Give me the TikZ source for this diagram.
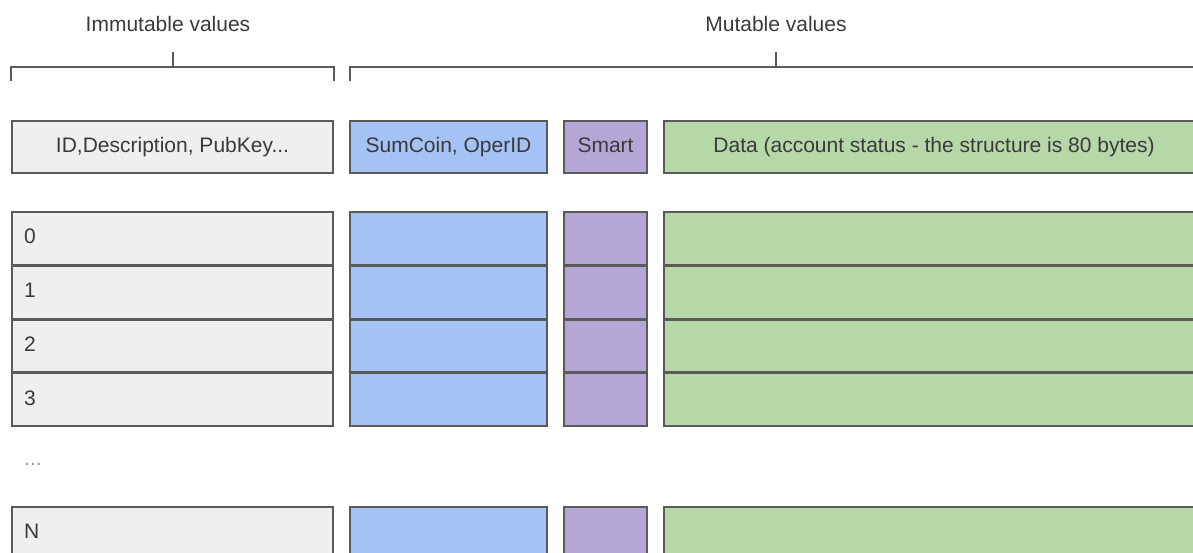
\documentclass[tikz,border=0pt]{standalone}
\usepackage{fontspec}
\setmainfont{Liberation Sans}
\usetikzlibrary{positioning}
\definecolor{tabInk}{HTML}{5A5A5A}
\definecolor{tabText}{HTML}{3A3A3A}
\definecolor{tabMuted}{HTML}{9A9A9A}
\definecolor{tabGrayFill}{HTML}{EFEFEF}
\definecolor{tabBlueFill}{HTML}{A4C2F4}
\definecolor{tabPurpleFill}{HTML}{B4A7D6}
\definecolor{tabGreenFill}{HTML}{B6D7A8}
\tikzset{
  tab/base/.style={draw=tabInk, line width=2pt, text=tabText,
    font=\fontsize{21}{25}\selectfont, inner sep=0pt, minimum height=52pt,
    text height=15pt, text depth=4pt, anchor=north west},
  tab/immutable/.style={tab/base, fill=tabGrayFill, minimum width=321pt},
  tab/coin/.style={tab/base, fill=tabBlueFill, minimum width=197pt},
  tab/smart/.style={tab/base, fill=tabPurpleFill, minimum width=83pt},
  tab/data/.style={tab/base, fill=tabGreenFill, minimum width=540pt},
  tab/index/.style={tab/immutable, text width=297pt, inner xsep=12pt,
    align=left, minimum height=52.75pt},
  tab/brace/.style={draw=tabInk, line width=1.5pt},
  tab/heading/.style={font=\fontsize{21}{25}\selectfont, text=tabText},
  tab/dots/.style={font=\fontsize{21}{25}\selectfont, text=tabMuted,
    anchor=west, inner sep=0pt},
}

\begin{document}
\begin{tikzpicture}[x=1pt, y=-1pt]
\useasboundingbox (0,0) rectangle (1193,553);
\clip (0,0) rectangle (1193,553);
% headings and brackets
\node[tab/heading] (immut) at (168,24) {Immutable values};
\node[tab/heading] (mut) at (776,24) {Mutable values};
\draw[tab/brace] (11,81) -- (11,67) -- (334,67) -- (334,81);
\draw[tab/brace] (173,67) -- (173,52);
\draw[tab/brace] (350,81) -- (350,67) -- (1210,67);
\draw[tab/brace] (776,67) -- (776,52);
% header row
\node[tab/immutable] (idhead) at (11,120) {ID,Description, PubKey...};
\node[tab/coin, right=15pt of idhead] (coinhead) {SumCoin, OperID};
\node[tab/smart, right=15pt of coinhead] (smarthead) {Smart};
\node[tab/data, right=15pt of smarthead] (datahead) {Data (account status - the structure is 80 bytes)};
% account rows
\node[tab/index] (idx0) at (11,211) {0};
\foreach \i [remember=\i as \prev (initially 0)] in {1,2,3}
  \node[tab/index, below=-1pt of idx\prev] (idx\i) {\i};
\node[tab/dots] (dots) at (24,464) {...};
\node[tab/index, below=79pt of idx3] (idxN) {N};
\foreach \r in {0,1,2,3,N} {
  \node[tab/coin, right=15pt of idx\r, minimum height=52.75pt] (coin\r) {};
  \node[tab/smart, right=15pt of coin\r, minimum height=52.75pt] (smart\r) {};
  \node[tab/data, right=15pt of smart\r, minimum height=52.75pt] (data\r) {};
}
\end{tikzpicture}
\end{document}
